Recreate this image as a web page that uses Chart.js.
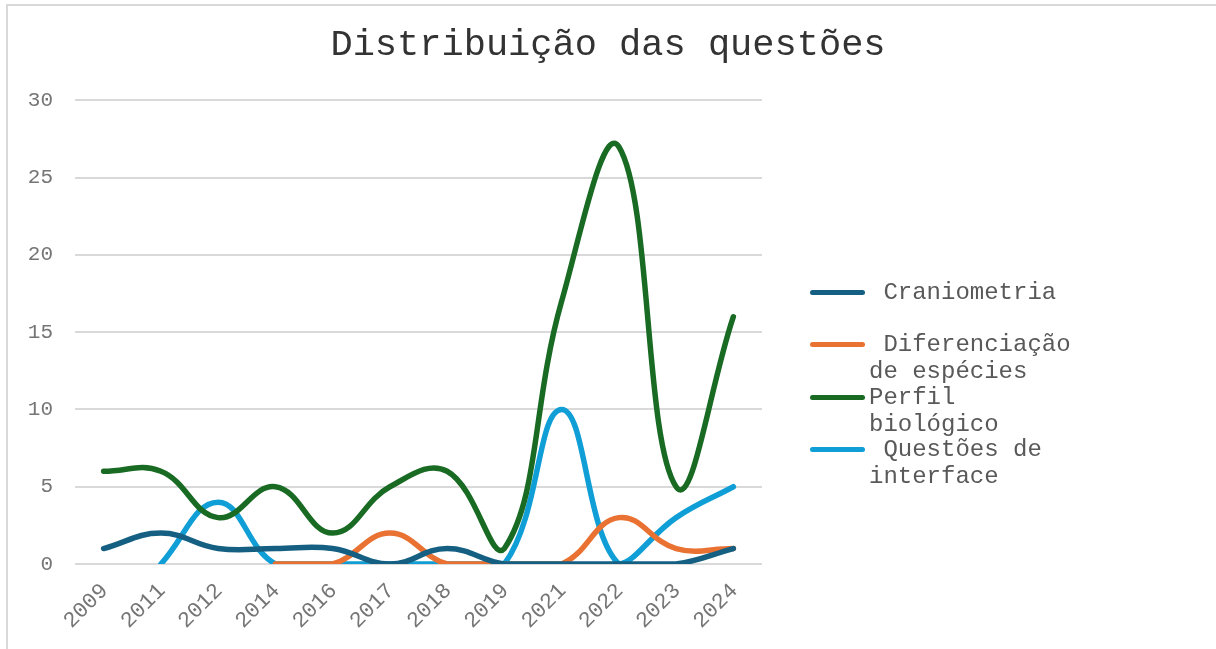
<!DOCTYPE html>
<html>
<head>
<meta charset="utf-8">
<script src="https://cdn.jsdelivr.net/npm/chart.js@4/dist/chart.umd.min.js"></script>
<style>
  html, body { margin: 0; padding: 0; background: #fff; }
  #wrap { position: relative; width: 1216px; height: 649px; overflow: hidden; }
  #frame { position: absolute; left: 6px; top: 4px; right: 0; bottom: 0;
           border-top: 2px solid #d9d9d9; border-left: 2px solid #d9d9d9; }
  canvas { position: absolute; left: 0; top: 0; }
  .leg { position: absolute; left: 810px; font-family: "Liberation Mono", "Courier New", monospace;
         font-size: 24px; line-height: 27px; color: #595959; white-space: pre; }
  .leg i { position: absolute; left: 0; width: 55px; height: 5px; border-radius: 3px; }
  .leg span { display: block; margin-left: 59px; }
</style>
</head>
<body>
<div id="wrap">
  <div id="frame"></div>
  <canvas id="chart" width="1216" height="649"></canvas>
  <div id="legend"></div>
</div>
<script>
var years = ['2009', '2011', '2012', '2014', '2016', '2017', '2018', '2019', '2021', '2022', '2023', '2024'];

var craniometria = [1, 2, 1, 1, 1, 0, 1, 0, 0, 0, 0, 1];
var diferenciacao = [null, null, null, 0, 0, 2, 0, 0, 0, 3, 1, 1];
var perfil = [6, 6, 3, 5, 2, 5, 6, 1, 17, 27, 5, 16];
var interfaceQ = [null, 0, 4, 0, 0, 0, 0, 0, 10, 0, 3, 5];

var seriesNames = ['Craniometria', 'Diferenciação de espécies', 'Perfil biológico', 'Questões de interface'];
// how the legend text wraps in the original
var legendLines = [[' Craniometria'], [' Diferenciação', 'de espécies'], ['Perfil', 'biológico'], [' Questões de', 'interface']];
var legendY = [292, 344, 397, 449];
var colors = ['#156082', '#E97132', '#196B24', '#0F9ED5'];

var yTicks = [0, 5, 10, 15, 20, 25, 30];

var values = [craniometria, diferenciacao, perfil, interfaceQ];
var datasets = [];
for (var i in values) {
  datasets.push({
    label: seriesNames[i],
    data: values[i],
    borderColor: colors[i],
    backgroundColor: colors[i],
    borderWidth: 5.5,
    borderCapStyle: 'round',
    pointRadius: 0,
    tension: 0.42,
    fill: false
  });
}

var mono = '"Liberation Mono", "Courier New", monospace';
var ctx = document.getElementById('chart');

var chart = new Chart(ctx, {
  type: 'line',
  data: { labels: years, datasets: datasets },
  options: {
    responsive: false,
    animation: false,
    layout: { padding: 0 },
    plugins: {
      legend: { display: false },
      tooltip: { enabled: false },
      title: {
        display: true,
        text: 'Distribuição das questões',
        color: '#333333',
        font: { family: mono, size: 37, weight: 'normal', lineHeight: 1.2 },
        padding: { top: 23, bottom: 33 }
      }
    },
    scales: {
      x: {
        offset: true,
        grid: { display: false },
        border: { display: false },
        ticks: {
          color: '#757575',
          font: { family: mono, size: 22 },
          minRotation: 45,
          maxRotation: 45,
          labelOffset: 1,
          padding: 6
        },
        afterFit: function(s) { s.height = 85; }
      },
      y: {
        min: 0,
        max: 30,
        afterBuildTicks: function(s) { s.ticks = yTicks.map(function(v) { return { value: v }; }); },
        grid: { color: '#d9d9d9', lineWidth: 2, drawTicks: false },
        border: { display: false },
        ticks: {
          color: '#757575',
          font: { family: mono, size: 21 },
          padding: 22
        },
        afterFit: function(s) { s.width = 75; }
      },
      yr: {
        position: 'right',
        display: true,
        grid: { display: false },
        border: { display: false },
        ticks: { display: false },
        afterFit: function(s) { s.width = 454; }
      }
    }
  }
});

// legend drawn as html next to the chart
var legend = document.getElementById('legend');
for (var k in legendLines) {
  var item = document.createElement('div');
  item.className = 'leg';
  item.style.top = (legendY[k] - 13.5) + 'px';
  var mark = document.createElement('i');
  mark.style.background = colors[k];
  mark.style.top = '11px';
  item.appendChild(mark);
  for (var j in legendLines[k]) {
    var s = document.createElement('span');
    s.textContent = legendLines[k][j];
    item.appendChild(s);
  }
  legend.appendChild(item);
}
</script>
</body>
</html>
